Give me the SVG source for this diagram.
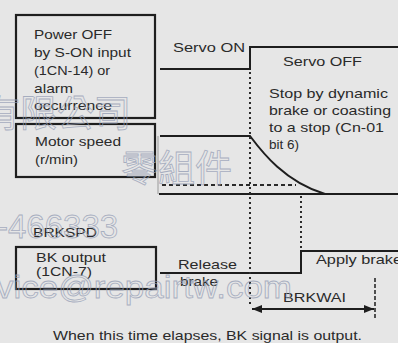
<svg xmlns="http://www.w3.org/2000/svg" width="398" height="343" viewBox="0 0 398 343">
<defs>
<style>
.bg{fill:#e6e6e6}
.box{fill:none;stroke:#1e1e1e;stroke-width:2.2}
.t{font-family:"Liberation Sans",Arial,sans-serif;font-size:13px;fill:#2a2a2a}
.sig{fill:none;stroke:#1e1e1e;stroke-width:2;stroke-linejoin:miter}
.dot{fill:none;stroke:#2a2a2a;stroke-width:2;stroke-dasharray:2 3}
.dash{fill:none;stroke:#2a2a2a;stroke-width:2;stroke-dasharray:4 3}
.wm{font-family:"Liberation Sans",Arial,sans-serif;fill:none;stroke:#97a0b6;stroke-width:0.8;opacity:0.8}
.wmc{font-family:"Noto Sans CJK TC","Noto Sans CJK SC",sans-serif;fill:none;stroke:#97a0b6;stroke-width:0.8;opacity:0.8}
</style>
<marker id="ah" viewBox="0 0 10 8" refX="10" refY="4" markerWidth="10" markerHeight="8" markerUnits="userSpaceOnUse" orient="auto-start-reverse">
<path d="M0,0 L10,4 L0,8 z" fill="#1e1e1e"/>
</marker>
</defs>
<rect class="bg" x="0" y="0" width="398" height="343"/>

<g id="node-power-off">
<rect class="box" x="16" y="15" width="139" height="103"/>
<text class="t" x="34" y="39" textLength="78" lengthAdjust="spacingAndGlyphs">Power OFF</text>
<text class="t" x="34" y="57" textLength="97" lengthAdjust="spacingAndGlyphs">by S-ON input</text>
<text class="t" x="34" y="75" textLength="76" lengthAdjust="spacingAndGlyphs">(1CN-14) or</text>
<text class="t" x="34" y="93" textLength="39" lengthAdjust="spacingAndGlyphs">alarm</text>
<text class="t" x="34" y="110" textLength="78" lengthAdjust="spacingAndGlyphs">occurrence</text>
</g>

<g id="node-motor-speed">
<rect class="box" x="16" y="124" width="139" height="53"/>
<text class="t" x="35" y="146" textLength="86" lengthAdjust="spacingAndGlyphs">Motor speed</text>
<text class="t" x="35" y="164" textLength="43" lengthAdjust="spacingAndGlyphs">(r/min)</text>
</g>

<g id="node-brkspd">
<text class="t" x="33" y="237" textLength="64" lengthAdjust="spacingAndGlyphs">BRKSPD</text>
</g>

<g id="node-bk-output">
<rect class="box" x="16" y="247" width="140" height="42"/>
<text class="t" x="36" y="262" textLength="70" lengthAdjust="spacingAndGlyphs">BK output</text>
<text class="t" x="36" y="276" textLength="56" lengthAdjust="spacingAndGlyphs">(1CN-7)</text>
</g>

<g id="node-servo-on">
<text class="t" x="173" y="52" textLength="72" lengthAdjust="spacingAndGlyphs">Servo ON</text>
</g>

<g id="node-servo-off">
<text class="t" x="283" y="66" textLength="79" lengthAdjust="spacingAndGlyphs">Servo OFF</text>
<text class="t" x="269" y="98" textLength="119" lengthAdjust="spacingAndGlyphs">Stop by dynamic</text>
<text class="t" x="269" y="115" textLength="122" lengthAdjust="spacingAndGlyphs">brake or coasting</text>
<text class="t" x="269" y="132" textLength="115" lengthAdjust="spacingAndGlyphs">to a stop (Cn-01</text>
<text class="t" x="269" y="149" textLength="30" lengthAdjust="spacingAndGlyphs">bit 6)</text>
</g>

<g id="node-release-brake">
<text class="t" x="178" y="269" textLength="59" lengthAdjust="spacingAndGlyphs">Release</text>
<text class="t" x="180" y="286" textLength="38" lengthAdjust="spacingAndGlyphs">brake</text>
</g>

<g id="node-apply-brake">
<text class="t" x="316" y="264" textLength="86" lengthAdjust="spacingAndGlyphs">Apply brake</text>
</g>

<g id="node-brkwai">
<text class="t" x="283" y="302" textLength="63" lengthAdjust="spacingAndGlyphs">BRKWAI</text>
</g>

<g id="node-note">
<text class="t" x="53" y="340" font-size="12" textLength="309" lengthAdjust="spacingAndGlyphs">When this time elapses, BK signal is output.</text>
</g>

<g id="connectors">
<polyline class="sig" points="160,69 250,69 250,47 398,47"/>
<path class="sig" d="M160,136 L250,136 C262,152 285,182 325,194"/>
<line x1="158" y1="136" x2="158" y2="194" stroke="#9a9a9a" stroke-width="1"/>
<line class="sig" x1="159" y1="194" x2="398" y2="194"/>
<line class="dash" x1="162" y1="185" x2="296" y2="185"/>
<polyline class="sig" points="160,273 301,273 301,251 398,251"/>
<line class="dot" x1="250" y1="72" x2="250" y2="306"/>
<line class="dot" x1="301" y1="196" x2="301" y2="249"/>
<line x1="375" y1="278" x2="375" y2="318" stroke="#2a2a2a" stroke-width="1.6" stroke-dasharray="4 2"/>
<line x1="252" y1="309" x2="374" y2="309" stroke="#1e1e1e" stroke-width="1.8" marker-start="url(#ah)" marker-end="url(#ah)"/>
</g>

<g id="watermark">
<text class="wmc" x="-17" y="127" font-size="37">有限公司</text>
<text class="wmc" x="121" y="182" font-size="37">零組件</text>
<text class="wm" x="-3" y="238" font-size="33">-466333</text>
<text class="wm" x="-4" y="298" font-size="32" textLength="296" lengthAdjust="spacingAndGlyphs">vice@repairtw.com</text>
</g>
</svg>
